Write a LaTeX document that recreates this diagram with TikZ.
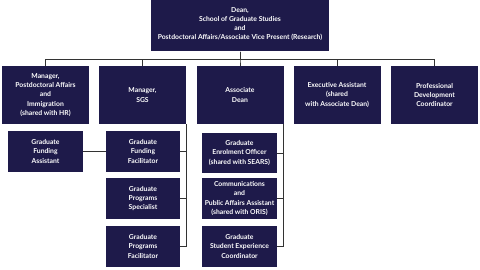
\documentclass[tikz,border=0pt]{standalone}
\usepackage{fontspec}
\setmainfont{Lato}
\definecolor{navy}{HTML}{1E1A4A}
\definecolor{linegray}{HTML}{333333}
\tikzset{
  post/.style={fill=navy, text=white, font=\bfseries\fontsize{6.8}{9.2}\selectfont,
    align=center, inner sep=1pt},
  wide/.style={post, minimum width=87pt, minimum height=58pt},
  small/.style={post, minimum width=75pt, minimum height=41pt},
  wire/.style={draw=linegray, line width=0.7pt}
}
\begin{document}
\begin{tikzpicture}[x=1pt, y=-1pt]
\useasboundingbox[fill=white] (0,0) rectangle (480,270);
\begin{scope}
\clip (0,0) rectangle (480,270);
\node[post, minimum width=178pt, minimum height=55pt] (dean) at (240,24) {Dean,\\School of Graduate Studies\\and\\Postdoctoral Affairs/Associate Vice Present (Research)};
\end{scope}

\node[wide] (pda) at (45.5,95) {Manager,\\Postdoctoral Affairs\\and\\Immigration\\(shared with HR)};
\node[wide] (sgs) at (142.5,95) {Manager,\\SGS};
\node[wide] (assoc) at (240,95) {Associate\\Dean};
\node[wide] (exec) at (337,95) {Executive Assistant\\(shared\\with Associate Dean)};
\node[wide] (prof) at (434.5,95) {Professional\\Development\\Coordinator};

\node[small] (gfa) at (45.5,151.5) {Graduate\\Funding\\Assistant};
\node[small, minimum width=74pt] (gff) at (143,151.5) {Graduate\\Funding\\Facilitator};
\node[small, minimum width=74pt] (gps) at (143,198.5) {Graduate\\Programs\\Specialist};
\node[small, minimum width=74pt] (gpfac) at (143,246.5) {Graduate\\Programs\\Facilitator};

\node[small, minimum height=40pt] (geo) at (239.5,153) {Graduate\\Enrolment Officer\\(shared with SEARS)};
\node[small] (cpa) at (239.5,198.5) {Communications\\and\\Public Affairs Assistant\\(shared with ORIS)};
\node[small] (gsec) at (239.5,246.5) {Graduate\\Student Experience\\Coordinator};

\foreach \n in {pda,sgs,assoc,exec,prof}
  \draw[wire] (dean.south) -- ++(0,8) -| (\n.north);

\foreach \n in {gff,gps,gpfac}
  \draw[wire] (sgs.south east) |- (\n.east);
\foreach \n in {geo,cpa,gsec}
  \draw[wire] (assoc.south east) |- (\n.east);

\draw[wire] (gfa) -- (gff);
\end{tikzpicture}
\end{document}
